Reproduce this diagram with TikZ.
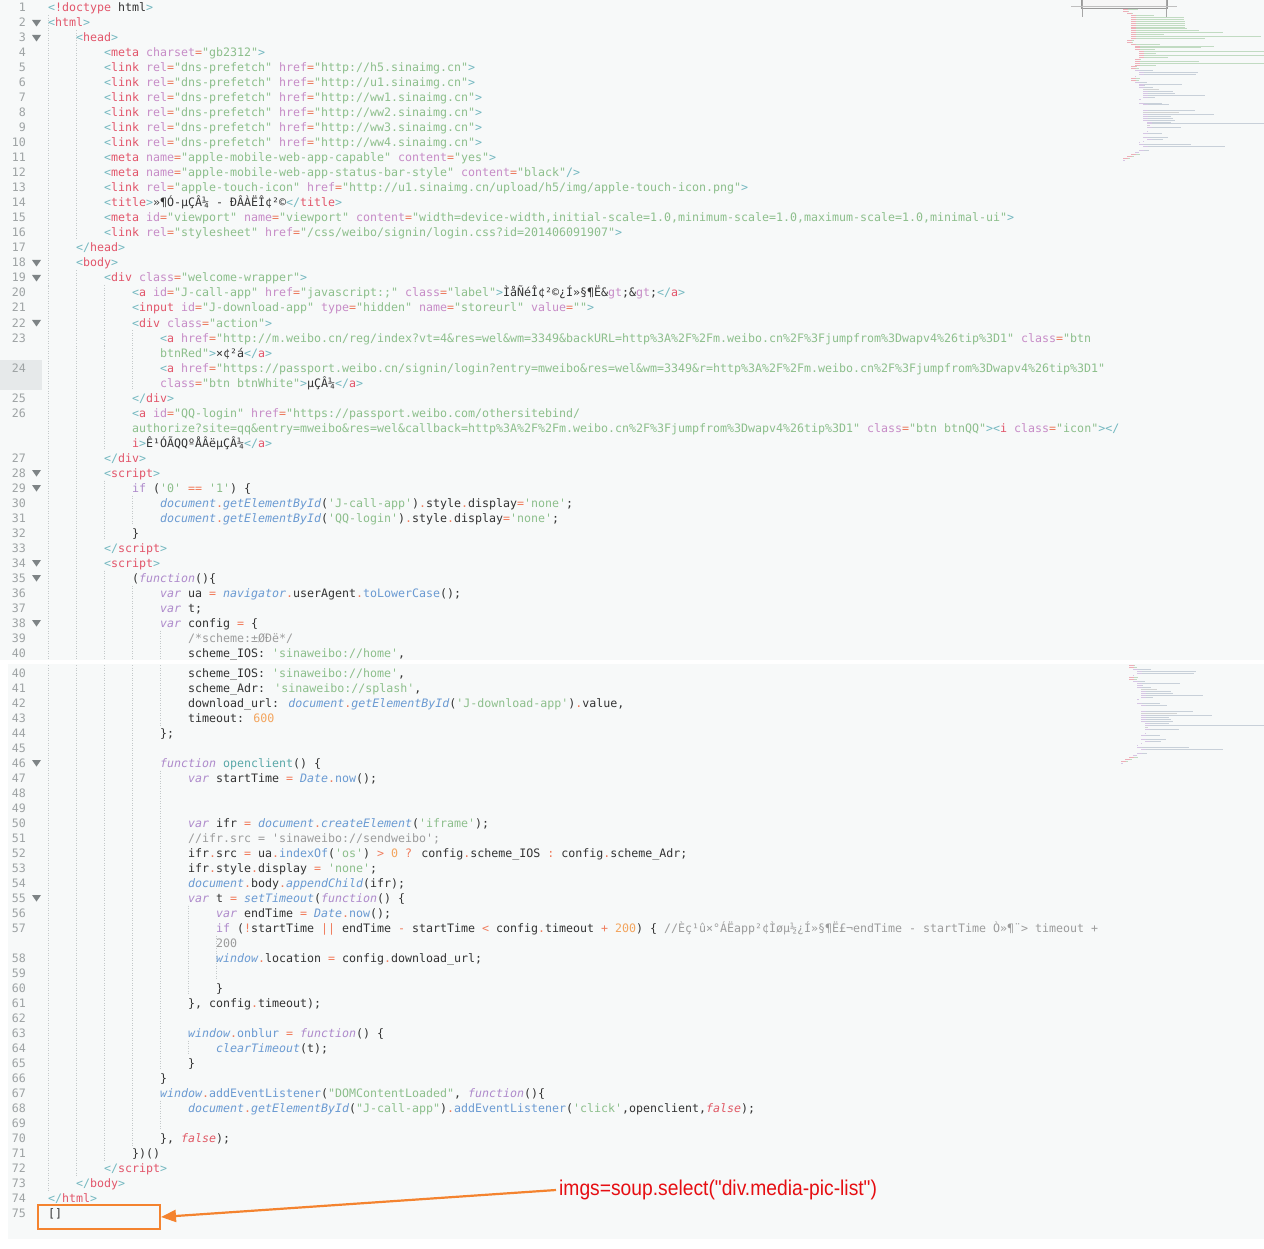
\documentclass[tikz,border=0pt]{standalone}
\usepackage{fontspec}
\usetikzlibrary{arrows.meta}
\newfontfamily\codefont{DejaVu Sans Mono}[Ligatures=TeXOff]
\newfontfamily\notefont{Liberation Sans}[FakeStretch=0.9]
\definecolor{cbg}{HTML}{F7F9F9}
\definecolor{cbr}{HTML}{74B8C0}
\definecolor{ctag}{HTML}{E2566B}
\definecolor{cattr}{HTML}{C78CC7}
\definecolor{ceq}{HTML}{EB7A5E}
\definecolor{cstr}{HTML}{8DBF8C}
\definecolor{ctxt}{HTML}{333333}
\definecolor{ckw}{HTML}{AE8ACB}
\definecolor{cobj}{HTML}{6A9AD2}
\definecolor{cfn}{HTML}{5AA8A8}
\definecolor{cop}{HTML}{F07C5C}
\definecolor{cnum}{HTML}{F3A55E}
\definecolor{ccom}{HTML}{9C9C9C}
\definecolor{cfalse}{HTML}{E05A66}
\definecolor{clno}{HTML}{9EA3A4}
\definecolor{cguide}{HTML}{C4C9CA}
\definecolor{cfold}{HTML}{7E8486}
\definecolor{chl}{HTML}{E6E9EA}
\definecolor{corange}{HTML}{F4832F}
\definecolor{cred}{HTML}{E60E12}
\definecolor{cmmj}{HTML}{8FA0B4}
\newcommand\hB[1]{\textcolor{cbr}{#1}}
\newcommand\hT[1]{\textcolor{ctag}{#1}}
\newcommand\hA[1]{\textcolor{cattr}{#1}}
\newcommand\hE{\textcolor{ceq}{=}}
\newcommand\hS[1]{\textcolor{cstr}{#1}}
\newcommand\hK[1]{\textcolor{ckw}{\itshape #1}}
\newcommand\hKn[1]{\textcolor{ckw}{#1}}
\newcommand\hO[1]{\textcolor{cobj}{\itshape #1}}
\newcommand\hM[1]{\textcolor{cobj}{#1}}
\newcommand\hI[1]{\textcolor{cfn}{#1}}
\newcommand\hX[1]{\textcolor{cop}{#1}}
\newcommand\hN[1]{\textcolor{cnum}{#1}}
\newcommand\hC[1]{\textcolor{ccom}{#1}}
\newcommand\hF[1]{\textcolor{cfalse}{\itshape #1}}
\newcommand\hAt[2]{\hA{#1}\hE\hS{"#2"}}
\newcommand\hOt[1]{\hB{<}\hT{#1}}
\newcommand\hCt[1]{\hB{</}\hT{#1}\hB{>}}
\newcommand\hGt{\hB{>}}
\newcommand\codeT[4]{\node[code] (#1) at (#2,{12+15*#3}) {#4};}
\newcommand\codeB[4]{\node[code] (#1) at (#2,{677+15*#3}) {#4};}
\begin{document}
\begin{tikzpicture}[x=1pt,y=-1pt,
  code/.style={anchor=base west, inner sep=0pt, outer sep=0pt, font=\codefont\fontsize{11.63pt}{14pt}\selectfont, text=ctxt},
  lno/.style={anchor=base east, inner sep=0pt, outer sep=0pt, font=\codefont\fontsize{11.63pt}{14pt}\selectfont, text=clno},
  guide/.style={draw=cguide, line width=0.8pt, dash pattern=on 1pt off 1.5pt},
  mmah/.style={draw=ctag, line width=1pt, opacity=0.45},
  mmbh/.style={draw=cstr, line width=1pt, opacity=0.5},
  mmaj/.style={draw=ckw, line width=1pt, opacity=0.45},
  mmbj/.style={draw=cmmj, line width=1pt, opacity=0.45},
  mmac/.style={draw=ccom, line width=1pt, opacity=0.4},
  mmbc/.style={draw=ccom, line width=1pt, opacity=0.4},
]
\useasboundingbox (0,0) rectangle (1264,1249);
\fill[white] (0,0) rectangle (1264,1249);
\fill[cbg] (0,0) rectangle (1264,660);
\fill[cbg] (8,664) rectangle (1264,1239);

% ---------- top part ----------
\begin{scope}
\clip (0,0) rectangle (1264,659.3);
\fill[chl] (0,360) rectangle (42,390);
\draw[guide] (48,15.5) -- (48,661);
\draw[guide] (76,30.5) -- (76,240.5);
\draw[guide] (76,270.5) -- (76,661);
\draw[guide] (104,285.5) -- (104,450.5);
\draw[guide] (132,330.5) -- (132,390.5);
\draw[guide] (104,480.5) -- (104,540.5);
\draw[guide] (132,495.5) -- (132,525.5);
\draw[guide] (104,570.5) -- (104,661);
\draw[guide] (132,585.5) -- (132,661);
\draw[guide] (160,630.5) -- (160,661);
\foreach \n in {1,...,23} {\node[lno] (t\n) at (26,{12+15*(\n-1)}) {\n};}
\node[lno] (t24) at (26,372) {24};
\node[lno] (t25) at (26,402) {25};
\node[lno] (t26) at (26,417) {26};
\foreach \n in {27,...,40} {\node[lno] (t\n) at (26,{12+15*(\n+3)}) {\n};}
\foreach \r in {1,2,17,18,21,31,32,37,38,41} {\fill[cfold] (32,{8+15*\r-3}) -- (41,{8+15*\r-3}) -- (36.5,{8+15*\r+3.5}) -- cycle;}
\codeT{r0}{48}{0}{\hOt{!doctype} html\hGt}
\codeT{r1}{48}{1}{\hOt{html}\hGt}
\codeT{r2}{76}{2}{\hOt{head}\hGt}
\codeT{r3}{104}{3}{\hOt{meta} \hAt{charset}{gb2312}\hGt}
\codeT{r4}{104}{4}{\hOt{link} \hAt{rel}{dns-prefetch} \hAt{href}{http://h5.sinaimg.cn}\hGt}
\codeT{r5}{104}{5}{\hOt{link} \hAt{rel}{dns-prefetch} \hAt{href}{http://u1.sinaimg.cn}\hGt}
\codeT{r6}{104}{6}{\hOt{link} \hAt{rel}{dns-prefetch} \hAt{href}{http://ww1.sinaimg.cn}\hGt}
\codeT{r7}{104}{7}{\hOt{link} \hAt{rel}{dns-prefetch} \hAt{href}{http://ww2.sinaimg.cn}\hGt}
\codeT{r8}{104}{8}{\hOt{link} \hAt{rel}{dns-prefetch} \hAt{href}{http://ww3.sinaimg.cn}\hGt}
\codeT{r9}{104}{9}{\hOt{link} \hAt{rel}{dns-prefetch} \hAt{href}{http://ww4.sinaimg.cn}\hGt}
\codeT{r10}{104}{10}{\hOt{meta} \hAt{name}{apple-mobile-web-app-capable} \hAt{content}{yes}\hGt}
\codeT{r11}{104}{11}{\hOt{meta} \hAt{name}{apple-mobile-web-app-status-bar-style} \hAt{content}{black}\hB{/>}}
\codeT{r12}{104}{12}{\hOt{link} \hAt{rel}{apple-touch-icon} \hAt{href}{http://u1.sinaimg.cn/upload/h5/img/apple-touch-icon.png}\hGt}
\codeT{r13}{104}{13}{\hOt{title}\hGt{}»¶Ó-µÇÂ¼ - ÐÂÀËÎ¢²©\hCt{title}}
\codeT{r14}{104}{14}{\hOt{meta} \hAt{id}{viewport} \hAt{name}{viewport} \hAt{content}{width=device-width,initial-scale=1.0,minimum-scale=1.0,maximum-scale=1.0,minimal-ui}\hGt}
\codeT{r15}{104}{15}{\hOt{link} \hAt{rel}{stylesheet} \hAt{href}{/css/weibo/signin/login.css?id=201406091907}\hGt}
\codeT{r16}{76}{16}{\hCt{head}}
\codeT{r17}{76}{17}{\hOt{body}\hGt}
\codeT{r18}{104}{18}{\hOt{div} \hAt{class}{welcome-wrapper}\hGt}
\codeT{r19}{132}{19}{\hOt{a} \hAt{id}{J-call-app} \hAt{href}{javascript:;} \hAt{class}{label}\hGt{}ÌåÑéÎ¢²©¿Í»§¶Ë\&\hA{gt};\&\hA{gt};\hCt{a}}
\codeT{r20}{132}{20}{\hOt{input} \hAt{id}{J-download-app} \hAt{type}{hidden} \hAt{name}{storeurl} \hAt{value}{}\hGt}
\codeT{r21}{132}{21}{\hOt{div} \hAt{class}{action}\hGt}
\codeT{r22}{160}{22}{\hOt{a} \hAt{href}{http://m.weibo.cn/reg/index?vt=4\&res=wel\&wm=3349\&backURL=http\%3A\%2F\%2Fm.weibo.cn\%2F\%3Fjumpfrom\%3Dwapv4\%26tip\%3D1} \hA{class}\hE\hS{"btn}}
\codeT{r23}{160}{23}{\hS{btnRed"}\hGt{}×¢²á\hCt{a}}
\codeT{r24}{160}{24}{\hOt{a} \hAt{href}{https://passport.weibo.cn/signin/login?entry=mweibo\&res=wel\&wm=3349\&r=http\%3A\%2F\%2Fm.weibo.cn\%2F\%3Fjumpfrom\%3Dwapv4\%26tip\%3D1}}
\codeT{r25}{160}{25}{\hAt{class}{btn btnWhite}\hGt{}µÇÂ¼\hCt{a}}
\codeT{r26}{132}{26}{\hCt{div}}
\codeT{r27}{132}{27}{\hOt{a} \hAt{id}{QQ-login} \hA{href}\hE\hS{"https://passport.weibo.com/othersitebind/}}
\codeT{r28}{132}{28}{\hS{authorize?site=qq\&entry=mweibo\&res=wel\&callback=http\%3A\%2F\%2Fm.weibo.cn\%2F\%3Fjumpfrom\%3Dwapv4\%26tip\%3D1"} \hAt{class}{btn btnQQ}\hGt\hOt{i} \hAt{class}{icon}\hGt\hB{</}}
\codeT{r29}{132}{29}{\hT{i}\hGt{}Ê¹ÓÃQQºÅÂëµÇÂ¼\hCt{a}}
\codeT{r30}{104}{30}{\hCt{div}}
\codeT{r31}{104}{31}{\hOt{script}\hGt}
\codeT{r32}{132}{32}{\hKn{if} (\hS{'0'} \hX{==} \hS{'1'}) \{}
\codeT{r33}{160}{33}{\hO{document}\hX{.}\hO{getElementById}(\hS{'J-call-app'})\hX{.}style\hX{.}display\hX{=}\hS{'none'};}
\codeT{r34}{160}{34}{\hO{document}\hX{.}\hO{getElementById}(\hS{'QQ-login'})\hX{.}style\hX{.}display\hX{=}\hS{'none'};}
\codeT{r35}{132}{35}{\}}
\codeT{r36}{104}{36}{\hCt{script}}
\codeT{r37}{104}{37}{\hOt{script}\hGt}
\codeT{r38}{132}{38}{(\hK{function}()\{}
\codeT{r39}{160}{39}{\hK{var} ua \hX{=} \hO{navigator}\hX{.}userAgent\hX{.}\hM{toLowerCase}();}
\codeT{r40}{160}{40}{\hK{var} t;}
\codeT{r41}{160}{41}{\hK{var} config \hX{=} \{}
\codeT{r42}{188}{42}{\hC{/*scheme:±ØÐë*/}}
\codeT{r43}{188}{43}{scheme\_IOS: \hS{'sinaweibo://home'},}
% minimap frame
\fill[white!93!gray] (1081,0) rectangle (1167,8);
\draw[gray!80, line width=0.6pt] (1081,-1) rectangle (1167,8);
\draw[gray!70, line width=0.8pt] (1082,0) -- (1082,17);
\draw[gray!70, line width=0.8pt] (1166,0) -- (1166,17);
\draw[gray!50, line width=0.5pt] (1071,6) -- (1177,6);
\end{scope}

% ---------- bottom part ----------
\draw[guide] (48,665) -- (48,1190.5);
\draw[guide] (76,665) -- (76,1175.5);
\draw[guide] (104,665) -- (104,1160.5);
\draw[guide] (132,665) -- (132,1145.5);
\draw[guide] (160,665) -- (160,725.5);
\draw[guide] (160,770.5) -- (160,1070.5);
\draw[guide] (188,905.5) -- (188,995.5);
\draw[guide] (216,935.5) -- (216,980.5);
\draw[guide] (188,1040.5) -- (188,1055.5);
\draw[guide] (160,1100.5) -- (160,1130.5);
\foreach \n in {40,...,57} {\node[lno] (b\n) at (26,{677+15*(\n-40)}) {\n};}
\foreach \n in {58,...,75} {\node[lno] (b\n) at (26,{677+15*(\n-39)}) {\n};}
\foreach \r in {6,15} {\fill[cfold] (32,{673+15*\r-3}) -- (41,{673+15*\r-3}) -- (36.5,{673+15*\r+3.5}) -- cycle;}
\codeB{s0}{188}{0}{scheme\_IOS: \hS{'sinaweibo://home'},}
\codeB{s1}{188}{1}{scheme\_Adr: \hS{'sinaweibo://splash'},}
\codeB{s2}{188}{2}{download\_url: \hO{document}\hX{.}\hO{getElementById}(\hS{'J-download-app'})\hX{.}value,}
\codeB{s3}{188}{3}{timeout: \hN{600}}
\codeB{s4}{160}{4}{\};}
\codeB{s6}{160}{6}{\hK{function} \hI{openclient}() \{}
\codeB{s7}{188}{7}{\hK{var} startTime \hX{=} \hO{Date}\hX{.}\hM{now}();}
\codeB{s10}{188}{10}{\hK{var} ifr \hX{=} \hO{document}\hX{.}\hO{createElement}(\hS{'iframe'});}
\codeB{s11}{188}{11}{\hC{//ifr.src = 'sinaweibo://sendweibo';}}
\codeB{s12}{188}{12}{ifr\hX{.}src \hX{=} ua\hX{.}\hM{indexOf}(\hS{'os'}) \hX{>} \hN{0} \hX{?} config\hX{.}scheme\_IOS \hX{:} config\hX{.}scheme\_Adr;}
\codeB{s13}{188}{13}{ifr\hX{.}style\hX{.}display \hX{=} \hS{'none'};}
\codeB{s14}{188}{14}{\hO{document}\hX{.}body\hX{.}\hO{appendChild}(ifr);}
\codeB{s15}{188}{15}{\hK{var} t \hX{=} \hO{setTimeout}(\hK{function}() \{}
\codeB{s16}{216}{16}{\hK{var} endTime \hX{=} \hO{Date}\hX{.}\hM{now}();}
\codeB{s17}{216}{17}{\hKn{if} (\hX{!}startTime \hX{||} endTime \hX{-} startTime \hX{<} config\hX{.}timeout \hX{+} \hN{200}) \{ \hC{//Èç¹û×°ÁËapp²¢Ìøµ½¿Í»§¶Ë£¬endTime - startTime Ò»¶¨> timeout +}}
\codeB{s18}{216}{18}{\hC{200}}
\codeB{s19}{216}{19}{\hO{window}\hX{.}location \hX{=} config\hX{.}download\_url;}
\codeB{s21}{216}{21}{\}}
\codeB{s22}{188}{22}{\}, config\hX{.}timeout);}
\codeB{s24}{188}{24}{\hO{window}\hX{.}\hM{onblur} \hX{=} \hK{function}() \{}
\codeB{s25}{216}{25}{\hO{clearTimeout}(t);}
\codeB{s26}{188}{26}{\}}
\codeB{s27}{160}{27}{\}}
\codeB{s28}{160}{28}{\hO{window}\hX{.}\hM{addEventListener}(\hS{"DOMContentLoaded"}, \hK{function}()\{}
\codeB{s29}{188}{29}{\hO{document}\hX{.}\hO{getElementById}(\hS{"J-call-app"})\hX{.}\hM{addEventListener}(\hS{'click'},openclient,\hF{false});}
\codeB{s31}{160}{31}{\}, \hF{false});}
\codeB{s32}{132}{32}{\})()}
\codeB{s33}{104}{33}{\hCt{script}}
\codeB{s34}{76}{34}{\hCt{body}}
\codeB{s35}{48}{35}{\hCt{html}}
\codeB{s36}{48}{36}{[]}

% ---------- minimaps ----------
\begin{scope}
\clip (0,0) rectangle (1264,1239);
\foreach \s/\l/\t [count=\r from 0] in {0/15/h,0/6/h,4/6/h,8/23/h,8/53/h,8/53/h,8/54/h,8/54/h,8/54/h,8/54/h,8/56/h,8/68/h,8/92/h,8/33/h,8/130/h,8/74/h,4/7/h,4/6/h,8/29/h,12/79/h,12/66/h,12/20/h,16/133/h,16/17/h,16/135/h,16/29/h,12/6/h,12/64/h,12/141/h,12/21/h,8/6/h,8/8/h,12/18/j,16/59/j,16/57/j,12/1/j,8/9/h,8/8/h,12/12/j,16/43/j,16/6/j,16/14/j,20/16/c,20/30/j,20/32/j,20/62/j,20/12/j,16/2/j,0/0/j,16/23/j,20/26/j,0/0/j,0/0/j,20/52/j,20/36/c,20/71/j,20/28/j,20/30/j,20/32/j,24/24/j,24/128/j,24/3/c,24/34/j,0/0/j,24/1/j,20/19/j,0/0/j,20/25/j,24/16/j,20/1/j,16/1/j,16/52/j,20/82/j,0/0/j,16/10/j,12/4/j,8/9/h,4/7/h,0/7/h,0/2/j} {
  \ifnum\l>0
    \pgfmathsetmacro\mA{min(5,\l)}
    \draw[mma\t] ({1123+\s},{10+1.9*\r}) -- ++(\mA,0);
    \ifnum\l>5 \draw[mmb\t] ({1123+\s+\mA},{10+1.9*\r}) -- ({1123+\s+\l},{10+1.9*\r}); \fi
    \ifnum\r>29
      \draw[mma\t] ({1121+\s},{665+2*(\r-30)}) -- ++(\mA,0);
      \ifnum\l>5 \draw[mmb\t] ({1121+\s+\mA},{665+2*(\r-30)}) -- ({1121+\s+\l},{665+2*(\r-30)}); \fi
    \fi
  \fi
}
\end{scope}

% ---------- annotation ----------
\node[draw=corange, line width=2pt, minimum width=122pt, minimum height=24pt, inner sep=0pt, anchor=north west] (box) at (37,1204) {};
\node[font=\notefont\fontsize{21.4pt}{24pt}\selectfont, text=cred, anchor=west, inner sep=3pt] (note) at (556,1190) {imgs=soup.select("div.media-pic-list")};
\draw[corange, line width=2.2pt, -{Triangle[length=15pt,width=12pt]}] (note.west) -- (box.east);
\end{tikzpicture}
\end{document}
